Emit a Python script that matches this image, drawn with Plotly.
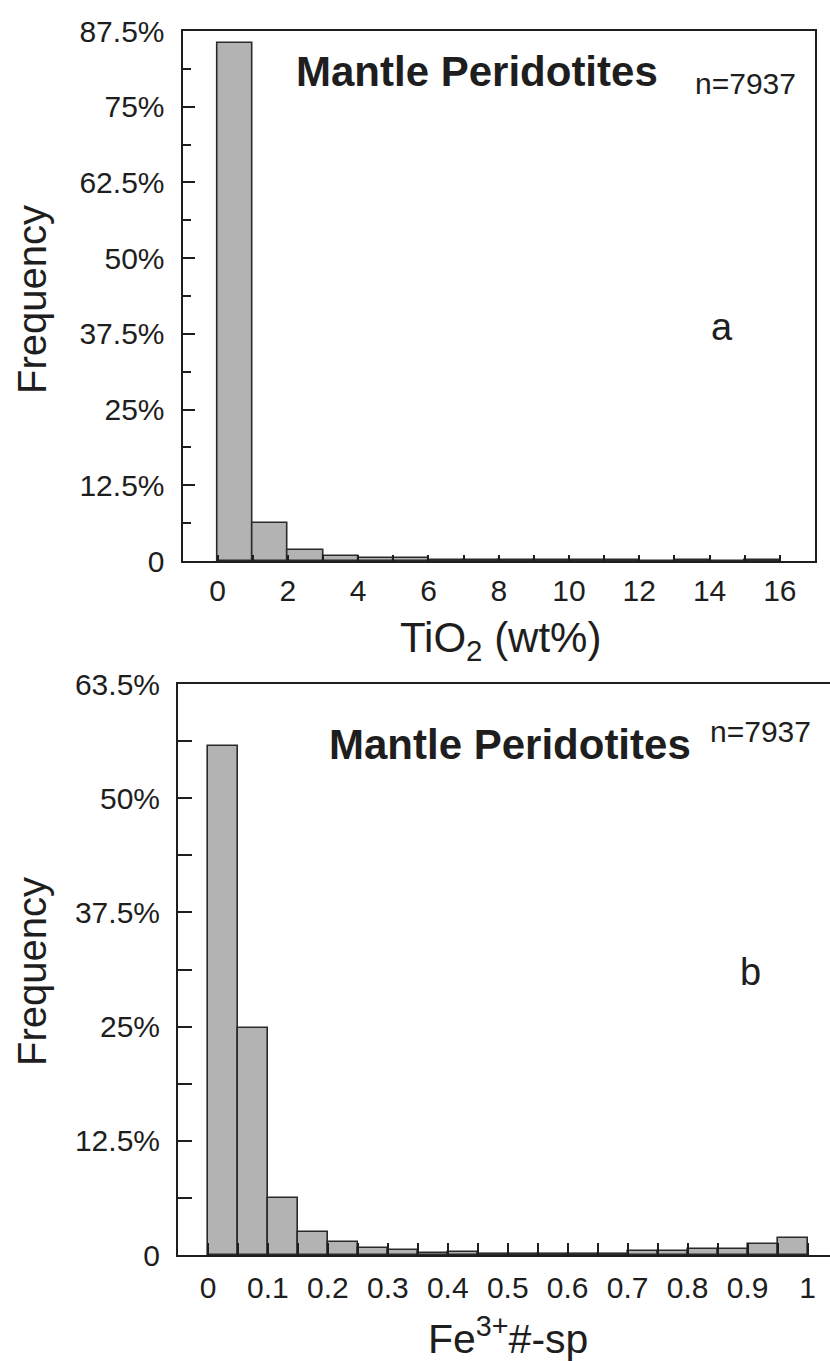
import plotly.graph_objects as go

# ---- data -------------------------------------------------------------
# (a) TiO2 (wt%) histogram, bin width 1
tio2_bin_lo = [0, 1, 2, 3, 4, 5, 6, 7, 8, 9, 10, 11, 12, 13, 14, 15]
tio2_freq = [85.6, 6.3, 1.8, 0.8, 0.45, 0.45, 0.15, 0.15, 0.15, 0.15, 0.15, 0.15,
             0.0, 0.1, 0.0, 0.1]
tio2_bin_width = 1

# (b) Fe3+# in spinel histogram, bin width 0.05
fe_bin_lo = [0.0, 0.05, 0.1, 0.15, 0.2, 0.25, 0.3, 0.35, 0.4, 0.45,
             0.5, 0.55, 0.6, 0.65, 0.7, 0.75, 0.8, 0.85, 0.9, 0.95]
fe_freq = [55.7, 24.85, 6.2, 2.5, 1.38, 0.8, 0.58, 0.18, 0.36, 0.14,
           0.14, 0.14, 0.12, 0.12, 0.44, 0.44, 0.65, 0.65, 1.23, 1.88]
fe_bin_width = 0.05

# axis tick labels
tio2_xticks = [0, 2, 4, 6, 8, 10, 12, 14, 16]
tio2_yticks = [0, 12.5, 25, 37.5, 50, 62.5, 75, 87.5]
tio2_yticktext = ["0", "12.5%", "25%", "37.5%", "50%", "62.5%", "75%", "87.5%"]

fe_xticks = [0, 0.1, 0.2, 0.3, 0.4, 0.5, 0.6, 0.7, 0.8, 0.9, 1]
fe_xticktext = ["0", "0.1", "0.2", "0.3", "0.4", "0.5", "0.6", "0.7", "0.8", "0.9", "1"]
fe_yticks = [0, 12.5, 25, 37.5, 50, 62.5]
fe_yticktext = ["0", "12.5%", "25%", "37.5%", "50%", "63.5%"]

n_samples = 7937

# ---- figure geometry --------------------------------------------------
W, H = 830, 1361
FONT = "Liberation Sans, Arial, Helvetica, sans-serif"
INK = "#1e1e1e"
BAR_FILL = "#b3b3b3"


def fx(px):
    return px / W


def fy(py):
    return 1 - py / H


fig = go.Figure()

bar_style = dict(
    marker=dict(color=BAR_FILL, line=dict(color="#2a2a2a", width=1.6)),
    offset=0,
    showlegend=False,
    hoverinfo="skip",
)

fig.add_trace(go.Bar(x=tio2_bin_lo, y=tio2_freq, width=tio2_bin_width,
                     xaxis="x", yaxis="y", **bar_style))
fig.add_trace(go.Bar(x=fe_bin_lo, y=fe_freq, width=fe_bin_width,
                     xaxis="x2", yaxis="y2", **bar_style))

tick_font = dict(family=FONT, size=30, color=INK)

axis_common = dict(
    showline=True, linecolor=INK, linewidth=2,
    showgrid=False, zeroline=False,
    ticks="inside", tickcolor=INK, tickwidth=1.6,
    tickfont=tick_font, automargin=False, fixedrange=True,
)

fig.update_layout(
    width=W, height=H,
    margin=dict(l=0, r=0, t=0, b=0),
    paper_bgcolor="white", plot_bgcolor="white",
    bargap=0,
    font=dict(family=FONT, color=INK),
    xaxis=dict(
        **axis_common,
        domain=[fx(182.5), fx(815)], anchor="y",
        range=[-1, 17], mirror=True,
        tickmode="array", tickvals=tio2_xticks, ticklen=6,
        minor=dict(tickmode="linear", tick0=0, dtick=1, ticklen=6,
                   ticks="inside", tickcolor=INK, tickwidth=1.6),
        ticklabelstandoff=2,
    ),
    yaxis=dict(
        **axis_common,
        domain=[fy(561), fy(31)], anchor="x",
        range=[0, 87.5], mirror=True,
        tickmode="array", tickvals=tio2_yticks, ticktext=tio2_yticktext,
        ticklen=12,
        minor=dict(tickmode="linear", tick0=0, dtick=6.25, ticklen=8,
                   ticks="inside", tickcolor=INK, tickwidth=1.6),
        ticklabelstandoff=10,
    ),
    xaxis2=dict(
        **axis_common,
        domain=[fx(178), 1.0], anchor="y2",
        range=[-0.05, 1.0375], mirror=True,
        tickmode="array", tickvals=fe_xticks, ticktext=fe_xticktext,
        ticklen=12,
        minor=dict(tickmode="linear", tick0=0, dtick=0.05, ticklen=12,
                   ticks="inside", tickcolor=INK, tickwidth=1.6),
        ticklabelstandoff=5,
    ),
    yaxis2=dict(
        **axis_common,
        domain=[fy(1255), fy(684)], anchor="x2",
        range=[0, 62.5], mirror=False,
        tickmode="array", tickvals=fe_yticks, ticktext=fe_yticktext,
        ticklen=14,
        minor=dict(tickmode="linear", tick0=0, dtick=6.25, ticklen=14,
                   ticks="inside", tickcolor=INK, tickwidth=1.6),
        ticklabelstandoff=10,
    ),
)


def note(text, x, y, size, xanchor="center", yanchor="middle", bold=False, angle=0):
    fig.add_annotation(
        text=f"<b>{text}</b>" if bold else text,
        xref="paper", yref="paper", x=fx(x), y=fy(y),
        xanchor=xanchor, yanchor=yanchor, showarrow=False,
        textangle=angle,
        font=dict(family=FONT, size=size, color=INK),
    )


# panel (a)
note("Mantle Peridotites", 294, 72, 42, xanchor="left", bold=True)
note(f"n={n_samples}", 798, 83, 30, xanchor="right")
note("a", 722, 327, 38)
note("TiO<sub>2</sub> (wt%)", 500, 640, 42)
note("Frequency", 32, 300, 40, angle=-90)

# panel (b)
note("Mantle Peridotites", 327, 744, 42, xanchor="left", bold=True)
note(f"n={n_samples}", 813, 731, 30, xanchor="right")
note("b", 750, 972, 38)
note("Fe<sup>3+</sup>#-sp", 508, 1336, 41)
note("Frequency", 32, 972, 40, angle=-90)

fig.write_html("out.html")
